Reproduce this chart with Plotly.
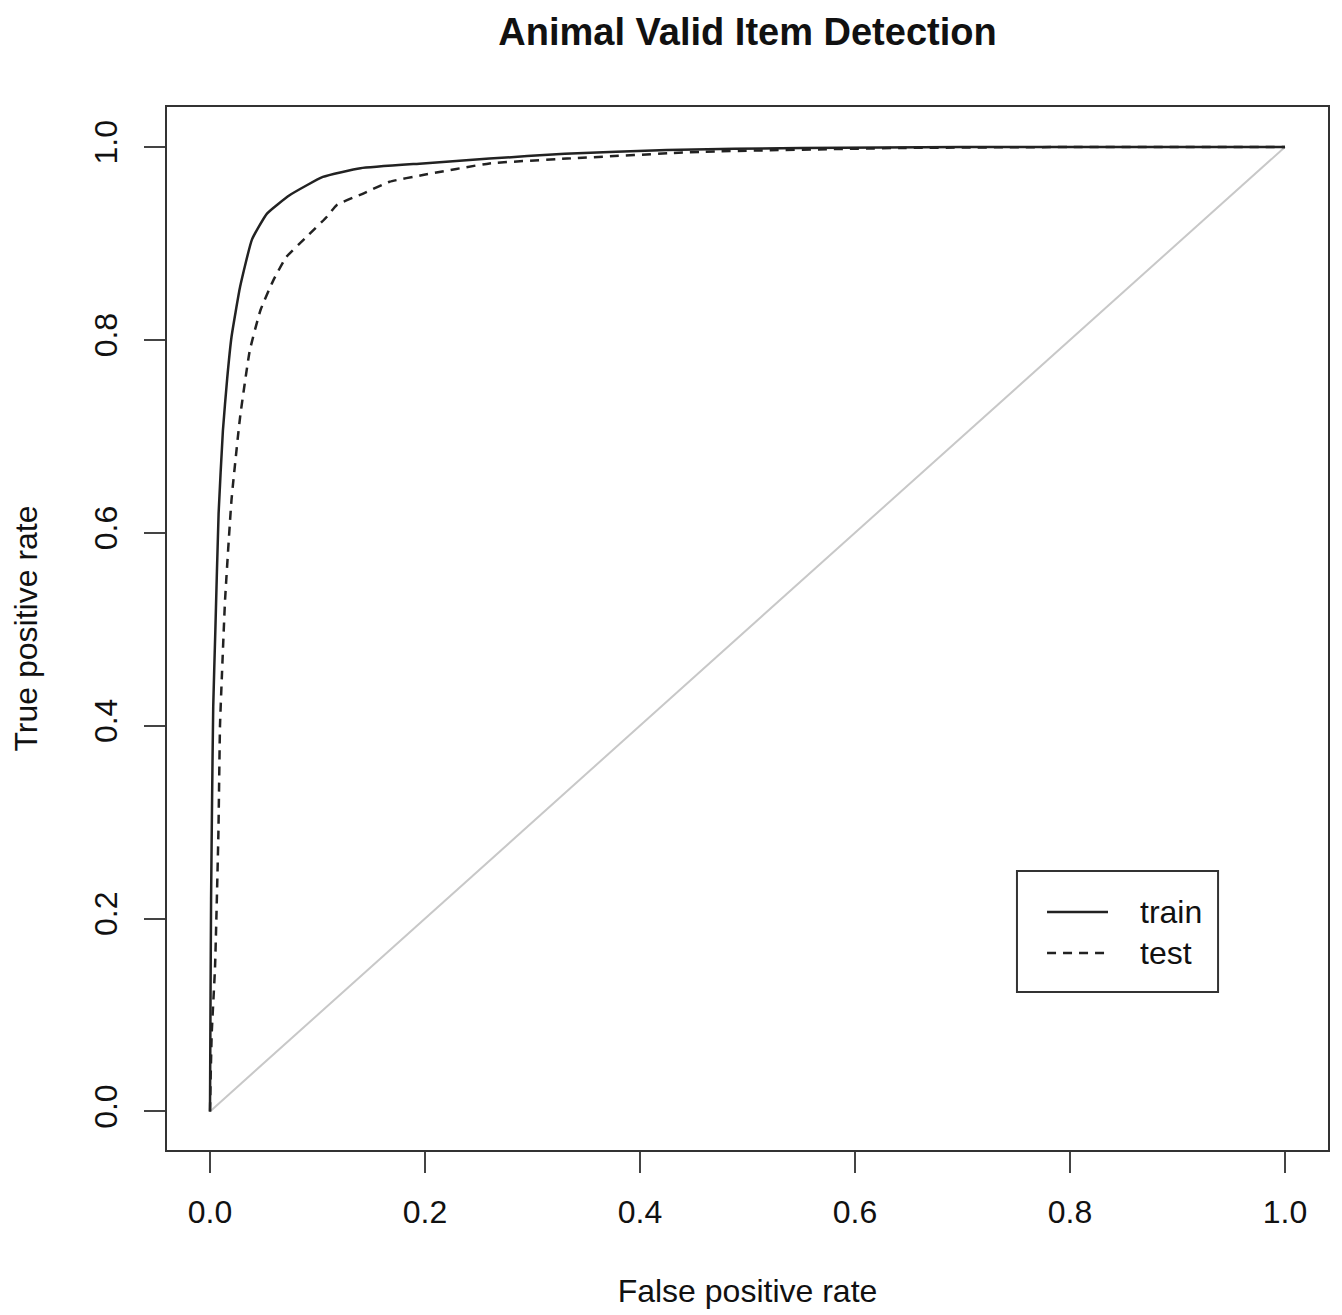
import plotly.graph_objects as go

# ROC data
train_fpr = [0, 0.0005, 0.001, 0.002, 0.003, 0.005, 0.008, 0.012, 0.016, 0.020, 0.028, 0.039,
             0.053, 0.074, 0.105, 0.140, 0.198, 0.260, 0.33, 0.425, 0.55, 0.70, 0.85, 1.0]
train_tpr = [0, 0.12, 0.22, 0.33, 0.42, 0.50, 0.62, 0.706, 0.76, 0.803, 0.855, 0.904,
             0.931, 0.950, 0.969, 0.978, 0.983, 0.988, 0.993, 0.997, 0.999, 1.0, 1.0, 1.0]

test_fpr = [0, 0.0005, 0.0016, 0.0047, 0.0078, 0.0093, 0.011, 0.014, 0.020, 0.028, 0.037, 0.047,
            0.059, 0.071, 0.090, 0.109, 0.118, 0.143, 0.167, 0.198, 0.260, 0.332, 0.456, 0.642,
            0.80, 1.0]
test_tpr = [0, 0.03, 0.081, 0.150, 0.288, 0.40, 0.45, 0.530, 0.634, 0.72, 0.789, 0.831,
            0.862, 0.886, 0.907, 0.928, 0.940, 0.952, 0.964, 0.971, 0.983, 0.988, 0.995, 0.999,
            1.0, 1.0]

diag = [0, 1]
tick_vals = [0.0, 0.2, 0.4, 0.6, 0.8, 1.0]
legend_names = ["train", "test"]

FONT = "Liberation Sans, Arial, Helvetica, sans-serif"
INK = "#222222"
DASH = "9px,7px"

fig = go.Figure()
fig.add_trace(go.Scatter(x=diag, y=diag, mode="lines", showlegend=False,
                         line=dict(color="#c8c8c8", width=2)))
fig.add_trace(go.Scatter(x=train_fpr, y=train_tpr, mode="lines", name=legend_names[0], showlegend=False,
                         line=dict(color=INK, width=2.5, shape="spline", smoothing=0.4)))
fig.add_trace(go.Scatter(x=test_fpr, y=test_tpr, mode="lines", name=legend_names[1], showlegend=False,
                         line=dict(color=INK, width=2.5, dash=DASH, shape="spline", smoothing=0.4)))

axis_common = dict(
    tickvals=tick_vals, tickformat=".1f", ticks="outside", ticklen=21, tickwidth=2,
    tickcolor="#444", showline=True, linecolor="#333", linewidth=2, mirror=True,
    showgrid=False, zeroline=False, tickfont=dict(family=FONT, size=32, color="#111"),
)

W, H = 1334, 1307

# legend box drawn in paper coordinates (R-style legend)
shapes = [
    dict(type="rect", xref="paper", yref="paper", x0=0.7321, x1=0.9053, y0=0.1515, y1=0.2675,
         line=dict(color="#333", width=2), fillcolor="white", layer="above"),
    dict(type="line", xref="paper", yref="paper", x0=0.758, x1=0.8105, y0=0.2282, y1=0.2282,
         line=dict(color=INK, width=2.5), layer="above"),
    dict(type="line", xref="paper", yref="paper", x0=0.758, x1=0.8105, y0=0.1889, y1=0.1889,
         line=dict(color=INK, width=2.5, dash=DASH), layer="above"),
]
annotations = [
    dict(text=legend_names[0], xref="paper", yref="paper", x=0.8364, y=0.2282, xanchor="left",
         yanchor="middle", showarrow=False, font=dict(family=FONT, size=32, color="#111")),
    dict(text=legend_names[1], xref="paper", yref="paper", x=0.8364, y=0.1889, xanchor="left",
         yanchor="middle", showarrow=False, font=dict(family=FONT, size=32, color="#111")),
]

fig.update_layout(
    width=W, height=H,
    margin=dict(l=159, r=14, t=99, b=165),
    paper_bgcolor="white", plot_bgcolor="white",
    font=dict(family=FONT, color="#111"),
    showlegend=False,
    title=dict(text="<b>Animal Valid Item Detection</b>", x=0.5, xref="paper",
               y=1 - 24 / H, yref="container", yanchor="middle", xanchor="center",
               font=dict(family=FONT, size=38, color="#111")),
    xaxis=dict(range=[-0.04, 1.04], title=dict(text="False positive rate", standoff=50,
               font=dict(family=FONT, size=32)), ticklabelstandoff=12, **axis_common),
    yaxis=dict(range=[-0.04, 1.0415], tickangle=-90, title=dict(text="True positive rate", standoff=41,
               font=dict(family=FONT, size=32)), ticklabelstandoff=14, **axis_common),
    shapes=shapes,
    annotations=annotations,
)

fig.write_html("out.html")
